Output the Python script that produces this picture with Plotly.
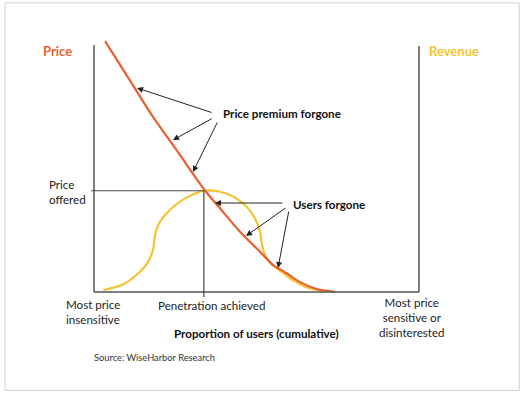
import plotly.graph_objects as go

# Price curve (demand) in normalized units: x 0..100 across axis, y 0..100 up the axis
price_x = [3.38, 10.46, 17.75, 25.85, 34.15, 38.77, 44.92, 51.08, 55.17, 59.29, 63.38, 68.52, 74.15]
price_y = [101.6, 86.9, 71.7, 56.6, 41.1, 33.9, 24.4, 16.3, 10.9, 7.6, 4.0, 1.2, 0.1]

# Revenue curve
rev_x = [2.86, 8.52, 13.63, 16.71, 18.25, 18.77, 20.31, 23.91, 28.0, 32.09, 34.15, 38.77,
         42.86, 46.98, 49.54, 51.08, 51.6, 52.62, 54.68, 57.23, 61.32, 66.46, 71.08]
rev_y = [0.8, 2.8, 7.6, 12.3, 17.7, 23.1, 28.5, 33.9, 37.9, 40.4, 41.1, 40.6,
         38.6, 34.5, 29.8, 24.4, 19.7, 15.0, 11.1, 8.7, 4.7, 1.4, 0.5]

price_offered = 41.0
penetration = 33.8

ORANGE = "#E8602E"
YELLOW = "#F4C430"
GRAY = "#555555"
FONT = "Lato"

fig = go.Figure()
fig.add_trace(go.Scatter(x=rev_x, y=rev_y, mode="lines",
                         line=dict(color=YELLOW, width=2.2, shape="spline", smoothing=0.8),
                         hoverinfo="skip", showlegend=False))
fig.add_trace(go.Scatter(x=price_x, y=price_y, mode="lines",
                         line=dict(color=ORANGE, width=2.2, shape="spline", smoothing=0.8),
                         hoverinfo="skip", showlegend=False))

shapes = [
    # axes
    dict(type="line", x0=0, x1=0, y0=0, y1=100, line=dict(color=GRAY, width=1.5)),
    dict(type="line", x0=100, x1=100, y0=0, y1=99.6, line=dict(color=GRAY, width=1.5)),
    dict(type="line", x0=0, x1=100, y0=0, y1=0, line=dict(color=GRAY, width=1.5)),
    # price offered / penetration guide lines
    dict(type="line", x0=-0.9, x1=penetration, y0=price_offered, y1=price_offered,
         line=dict(color="#444444", width=1.2)),
    dict(type="line", x0=penetration, x1=penetration, y0=price_offered, y1=-2.0,
         line=dict(color="#444444", width=1.2)),
    # outer border
    dict(type="rect", xref="paper", yref="paper", x0=-0.214, x1=1.255, y0=-0.345, y1=1.134,
         line=dict(color="#D0D0D0", width=1)),
]

anns = []
def txt(x, y, text, xanchor="center", size=11.6, color="#222222", bold=False, align="left"):
    anns.append(dict(x=x, y=y, xref="paper", yref="paper", text=(f"<b>{text}</b>" if bold else text),
                     showarrow=False, xanchor=xanchor, yanchor="middle", align=align,
                     borderpad=0,
                     font=dict(family=FONT, size=size, color=color)))

txt(-0.0657, 0.950, "Price", size=13, color=ORANGE, bold=True)
txt(1.0686, 0.950, "Revenue", size=13, color=YELLOW, bold=True)
txt(0.4057, 0.710, "Price premium forgone", xanchor="left", bold=True, color="#111111")
txt(0.6057, 0.366, "Users forgone", xanchor="left", bold=True, color="#111111")
txt(-0.0914, 0.412, "Price<br>offered", xanchor="left")
txt(-0.0429, -0.0439, "Most price<br>insensitive", xanchor="left")
txt(0.377, -0.0229, "Penetration achieved")
txt(0.9486, -0.0649, "Most price<br>sensitive or<br>disinterested", align="center")
txt(0.5043, -0.126, "Proportion of users (cumulative)", bold=True, color="#111111")
txt(0.0371, -0.2176, "Source: WiseHarbor Research", xanchor="left", size=9.3, color="#333333")

def arrow(x_from, y_from, x_to, y_to):
    anns.append(dict(x=x_to, y=y_to, ax=x_from, ay=y_from, xref="x", yref="y",
                     axref="x", ayref="y", text="", showarrow=True, arrowhead=2,
                     arrowsize=1.2, arrowwidth=1, arrowcolor="#222222", standoff=0))

def px2d(px, py):
    return ((px - 94) / 3.25, (292 - py) / 2.47)

for (fx, fy), (tx, ty) in [((213, 113), (137, 88)), ((213, 118), (173, 140)),
                           ((218, 121), (193, 172)), ((284, 203), (215, 203)),
                           ((287, 207), (246, 236)), ((289, 210), (278, 268))]:
    a = px2d(fx, fy)
    b = px2d(tx, ty)
    arrow(a[0], a[1], b[0], b[1])

fig.update_layout(
    width=525, height=393,
    margin=dict(l=80, r=95, t=38, b=93),
    paper_bgcolor="white", plot_bgcolor="white",
    xaxis=dict(range=[-4.308, 103.38], visible=False, fixedrange=True),
    yaxis=dict(range=[-3.239, 102.83], visible=False, fixedrange=True),
    shapes=shapes, annotations=anns, showlegend=False,
)

fig.write_html("out.html", config={"displayModeBar": False},
               post_script="document.body.style.margin='0';")
